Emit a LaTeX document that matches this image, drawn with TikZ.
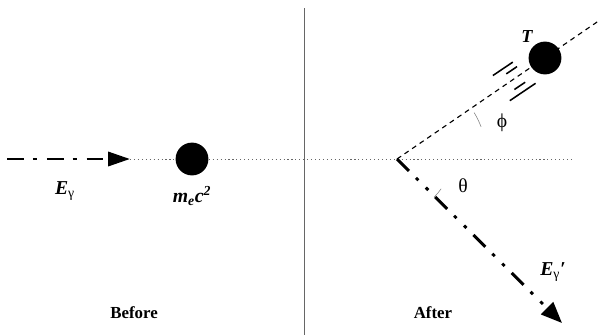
\documentclass[tikz,border=0pt]{standalone}
\usepackage{fontspec}
\setmainfont{Liberation Serif}
\usetikzlibrary{arrows.meta}

\begin{document}
\begin{tikzpicture}[x=0.025cm,y=-0.025cm,
   font=\fontsize{12}{14}\selectfont,
   particle/.style={circle,fill=black,minimum size=0.82cm,inner sep=0pt},
   photon/.style={line width=2.1pt,dash pattern=on 12pt off 6.4pt on 2.8pt off 7.1pt,-{Triangle[length=15.5pt,width=10pt]}},
   scattered/.style={line width=2.1pt,dash pattern=on 12pt off 7pt on 2.4pt off 7.5pt on 2.4pt off 7pt,-{Triangle[length=15pt,width=12pt]}},
   track/.style={line width=0.8pt,dash pattern=on 3.5pt off 3pt},
   axis/.style={line width=0.5pt,dash pattern=on 0.8pt off 2pt,gray!80!black},
   streak/.style={line width=1.1pt},
   arcmark/.style={line width=0.4pt,gray},
   sym/.style={font=\fontsize{14}{16}\selectfont\bfseries\itshape},
   greek/.style={font=\fontsize{14}{16}\selectfont},
   every node/.style={inner sep=0pt}]
\useasboundingbox (0,0) rectangle (603,335);
\draw[gray!80!black,line width=0.7pt] (304,8) -- (304,335);
\coordinate (A) at (7,159);
\coordinate (B) at (130,159);
\coordinate (O) at (397,159);
\coordinate (H) at (572,159);
\coordinate (D) at (600,20);
\coordinate (G) at (562,323);
\draw[axis] (B) -- (H);
\draw[track] (O) -- (D);
\node[particle] (e) at (192,159) {};
\node[particle] (T) at (545,58) {};
\draw[photon] (A) -- (B);
\draw[scattered] (O) -- (G);
\begin{scope}[shift={(T)},rotate=34]
  \draw[streak] (-53,-14.6) -- (-29,-14.6);
  \draw[streak] (-41,-8.5) -- (-28,-8.5);
  \draw[streak] (-43,9) -- (-30,9);
  \draw[streak] (-53,15.7) -- (-22,15.7);
\end{scope}
\draw[arcmark] ([shift={(21:2.25cm)}]O) arc[start angle=21,end angle=31,radius=2.25cm];
\draw[arcmark] ([shift={(-46:1.33cm)}]O) arc[start angle=-46,end angle=-34,radius=1.33cm];
\node[sym] (eg) at (65,191) {E\textsubscript{\upshape\mdseries γ}};
\node[sym] (me) at (192,196) {m\textsubscript{e}c\textsuperscript{2}};
\node[sym,font=\fontsize{13}{15}\selectfont\bfseries\itshape] (t) at (527,37) {T};
\node[greek] (phi) at (502,123) {ϕ};
\node[greek] (theta) at (463,186) {θ};
\node[sym] (egp) at (553,272) {E\textsubscript{\upshape\mdseries γ}′};
\node[font=\fontsize{12}{14}\selectfont\bfseries] (before) at (134,313) {Before};
\node[font=\fontsize{12}{14}\selectfont\bfseries] (after) at (433,313) {After};
\end{tikzpicture}
\end{document}
